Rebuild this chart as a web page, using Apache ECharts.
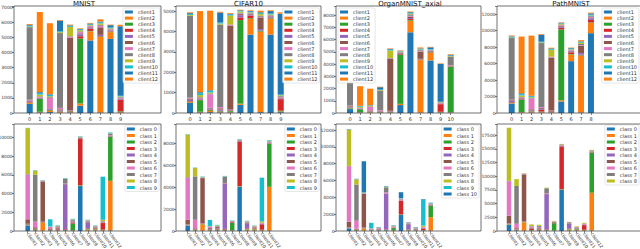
<!DOCTYPE html>
<html><head><meta charset="utf-8">
<script src="https://cdn.jsdelivr.net/npm/echarts@6/dist/echarts.min.js"></script>
<style>html,body{margin:0;padding:0;background:#fff}#c{width:640px;height:249px}</style>
</head><body><div id="c"></div>
<script>
// ---------- data: counts[client][class] ----------
const clientNames = ['client1','client2','client3','client4','client5','client6','client7','client8','client9','client10','client11','client12'];
const datasetTitles = ['MNIST','CIFAR10','OrganMNIST_axial','PathMNIST'];

const mnistCounts = [
  [600, 40, 60, 30, 40, 480, 4800, 30, 4900, 30],
  [60, 40, 80, 40, 30, 150, 600, 5000, 450, 40],
  [30, 850, 40, 30, 40, 4300, 30, 40, 30, 40],
  [30, 20, 30, 20, 30, 150, 150, 20, 30, 770],
  [60, 40, 50, 60, 40, 130, 60, 80, 40, 40],
  [50, 30, 40, 60, 4800, 60, 40, 500, 30, 40],
  [50, 40, 700, 100, 60, 80, 60, 100, 50, 60],
  [4800, 40, 50, 4950, 40, 50, 40, 60, 40, 40],
  [40, 120, 60, 60, 620, 80, 40, 100, 40, 40],
  [60, 100, 90, 60, 60, 40, 40, 60, 50, 40],
  [50, 60, 40, 700, 40, 40, 60, 60, 150, 4600],
  [60, 5300, 4700, 40, 50, 40, 40, 150, 40, 100]
];
const cifarCounts = [
  [490, 30, 40, 30, 30, 400, 3850, 40, 3850, 40],
  [40, 30, 60, 30, 30, 60, 770, 3950, 770, 30],
  [30, 570, 40, 30, 40, 4100, 30, 40, 30, 40],
  [30, 20, 30, 20, 30, 130, 130, 20, 30, 570],
  [60, 40, 50, 60, 40, 110, 50, 70, 40, 40],
  [60, 30, 40, 60, 4100, 50, 30, 570, 30, 40],
  [40, 30, 660, 60, 40, 30, 20, 30, 20, 30],
  [4020, 30, 40, 4050, 30, 40, 30, 50, 30, 40],
  [40, 100, 50, 50, 440, 60, 30, 80, 40, 40],
  [50, 90, 80, 50, 50, 30, 30, 50, 40, 30],
  [40, 50, 30, 490, 40, 30, 40, 40, 120, 3970],
  [40, 3980, 3900, 40, 40, 30, 30, 80, 40, 70]
];
const organCounts = [
  [320, 30, 30, 30, 40, 650, 6600, 30, 4300, 30, 40],
  [40, 30, 40, 30, 30, 100, 950, 4300, 620, 30, 30],
  [60, 240, 40, 30, 40, 4000, 60, 40, 40, 40, 3700],
  [30, 20, 30, 20, 30, 60, 80, 20, 30, 620, 30],
  [60, 30, 40, 40, 40, 50, 80, 40, 40, 30, 30],
  [50, 30, 40, 50, 4250, 50, 120, 600, 40, 40, 50],
  [40, 30, 270, 40, 30, 30, 60, 60, 40, 30, 40],
  [1900, 30, 40, 1600, 40, 40, 120, 60, 40, 40, 700],
  [30, 60, 40, 40, 620, 50, 60, 40, 30, 30, 40],
  [40, 50, 40, 30, 60, 30, 60, 50, 40, 30, 40],
  [30, 40, 30, 200, 60, 30, 60, 40, 150, 3100, 60],
  [40, 1600, 1350, 40, 40, 30, 50, 80, 40, 40, 50]
];
const pathCounts = [
  [1150, 60, 60, 60, 60, 1400, 6300, 60, 9700],
  [80, 60, 100, 60, 60, 150, 810, 6900, 1250],
  [60, 1500, 60, 60, 60, 8600, 60, 60, 60],
  [60, 60, 60, 200, 60, 200, 200, 60, 300],
  [120, 80, 100, 120, 80, 150, 100, 200, 200],
  [80, 60, 80, 100, 6400, 100, 80, 900, 100],
  [60, 60, 1300, 100, 60, 60, 60, 60, 80],
  [7500, 60, 60, 7800, 60, 80, 80, 150, 100],
  [60, 200, 100, 80, 850, 100, 60, 150, 60],
  [100, 150, 120, 80, 80, 60, 60, 100, 100],
  [60, 100, 60, 850, 80, 60, 80, 60, 150],
  [80, 6900, 7300, 80, 80, 60, 60, 150, 100]
];
const allCounts = [mnistCounts, cifarCounts, organCounts, pathCounts];

// axis ranges (y max, tick interval) per panel
const row1YMax = [7080, 5250, 8750, 13000];
const row1YInt = [1000, 1000, 1000, 2000];
const row2YMax = [11425, 9730, 12715, 19525];
const row2YInt = [2000, 2000, 2000, 2500];

// ---------- layout / style ----------
const palette = ['#1f77b4','#ff7f0e','#2ca02c','#d62728','#9467bd','#8c564b','#e377c2','#7f7f7f','#bcbd22','#17becf'];
const FONT = 'DejaVu Sans';
const frameX = [14, 176, 336, 497];
const frameW = [147, 145, 145, 144];
const rowTop = [6, 124];
const rowH = 107;
const row1First = [29.7, 190, 350, 511.7];
const row1Step = [10.1, 10.08, 10.07, 9.91];
const row2First = [27.7, 187.7, 349, 509];
const row2Step = [7.51, 7.42, 7.43, 7.52];
const row1Legend = [{right: 480, top: 8}, {right: 320.5, top: 8}, {left: 338, top: 8}, {right: 1, top: 8}];
const row2Legend = [{right: 481, top: 125}, {right: 321, top: 125}, {right: 161, top: 125}, {right: 1, top: 125}];
const titleX = [84, 248.5, 410, 571];

const grids = [], xAxes = [], yAxes = [], series = [], legends = [], graphics = [];

function addPanel(row, p, cats, defs, first, step, ymax, interval, legendPos, legendNames, itemGap, rotate) {
  const g = grids.length;
  const left = first - step / 2;
  grids.push({left: left, top: rowTop[row], width: step * cats.length, height: rowH, containLabel: false, outerBoundsMode: 'none'});
  xAxes.push({
    type: 'category', gridIndex: g, data: cats,
    axisLine: {show: false},
    axisTick: {show: true, alignWithLabel: true, length: 2, lineStyle: {color: '#333', width: 0.6}},
    axisLabel: {interval: 0, fontSize: rotate ? 4.5 : 5, fontFamily: FONT, color: '#333', margin: rotate ? 2 : 3, rotate: rotate || 0},
    splitLine: {show: false}
  });
  yAxes.push({
    type: 'value', gridIndex: g, min: 0, max: ymax, interval: interval, offset: left - frameX[p],
    axisLine: {show: false},
    axisTick: {show: true, length: 2, lineStyle: {color: '#333', width: 0.6}},
    axisLabel: {fontSize: 4.4, fontFamily: FONT, color: '#333', margin: 1.5,
      formatter: v => (v % interval === 0 ? String(v) : '')},
    splitLine: {show: false}
  });
  defs.forEach(d => series.push({
    type: 'bar', name: d.name, xAxisIndex: g, yAxisIndex: g, stack: 's' + g,
    barWidth: '60%', data: d.data, itemStyle: {color: d.color}, silent: true
  }));
  graphics.push({type: 'rect', shape: {x: frameX[p], y: rowTop[row], width: frameW[p], height: rowH},
    style: {fill: 'none', stroke: '#333', lineWidth: 0.7}, z: 100});
  legends.push(Object.assign({
    orient: 'vertical', align: 'left', data: legendNames, icon: 'rect',
    itemWidth: 8, itemHeight: 3, itemGap: itemGap, padding: [1.5, 2, 1.5, 2],
    textStyle: {fontSize: 5, fontFamily: FONT, color: '#333'},
    backgroundColor: 'rgba(255,255,255,0.85)', borderColor: '#ccc', borderWidth: 0.5, borderRadius: 1.5,
    selectedMode: false, itemStyle: {borderWidth: 0}
  }, legendPos));
}

for (let p = 0; p < 4; p++) {
  const counts = allCounts[p];
  const nCls = counts[0].length;
  const classTicks = Array.from({length: nCls}, (_, j) => String(j));
  const classNames = Array.from({length: nCls}, (_, j) => 'class ' + j);
  // row 1: bars per class, stacked by client
  const defs1 = clientNames.map((nm, i) => ({name: nm, color: palette[i % 10], data: counts[i]}));
  addPanel(0, p, classTicks, defs1, row1First[p], row1Step[p], row1YMax[p], row1YInt[p], row1Legend[p], clientNames, 1.1, 0);
  // row 2: bars per client, stacked by class
  const defs2 = classNames.map((nm, j) => ({name: nm, color: palette[j % 10], data: counts.map(r => r[j])}));
  addPanel(1, p, clientNames, defs2, row2First[p], row2Step[p], row2YMax[p], row2YInt[p], row2Legend[p], classNames, 1.5, -55);
  graphics.push({type: 'text', x: titleX[p], y: 0, z: 100,
    style: {text: datasetTitles[p], fontSize: 7, fontFamily: FONT, fill: '#111', align: 'center', verticalAlign: 'top', textAlign: 'center', textVerticalAlign: 'top'}});
}

const chart = echarts.init(document.getElementById('c'), null, {renderer: 'svg', width: 640, height: 249});
chart.setOption({
  animation: false,
  backgroundColor: '#fff',
  grid: grids, xAxis: xAxes, yAxis: yAxes, series: series, legend: legends,
  graphic: graphics, tooltip: {show: false}
});
</script></body></html>
